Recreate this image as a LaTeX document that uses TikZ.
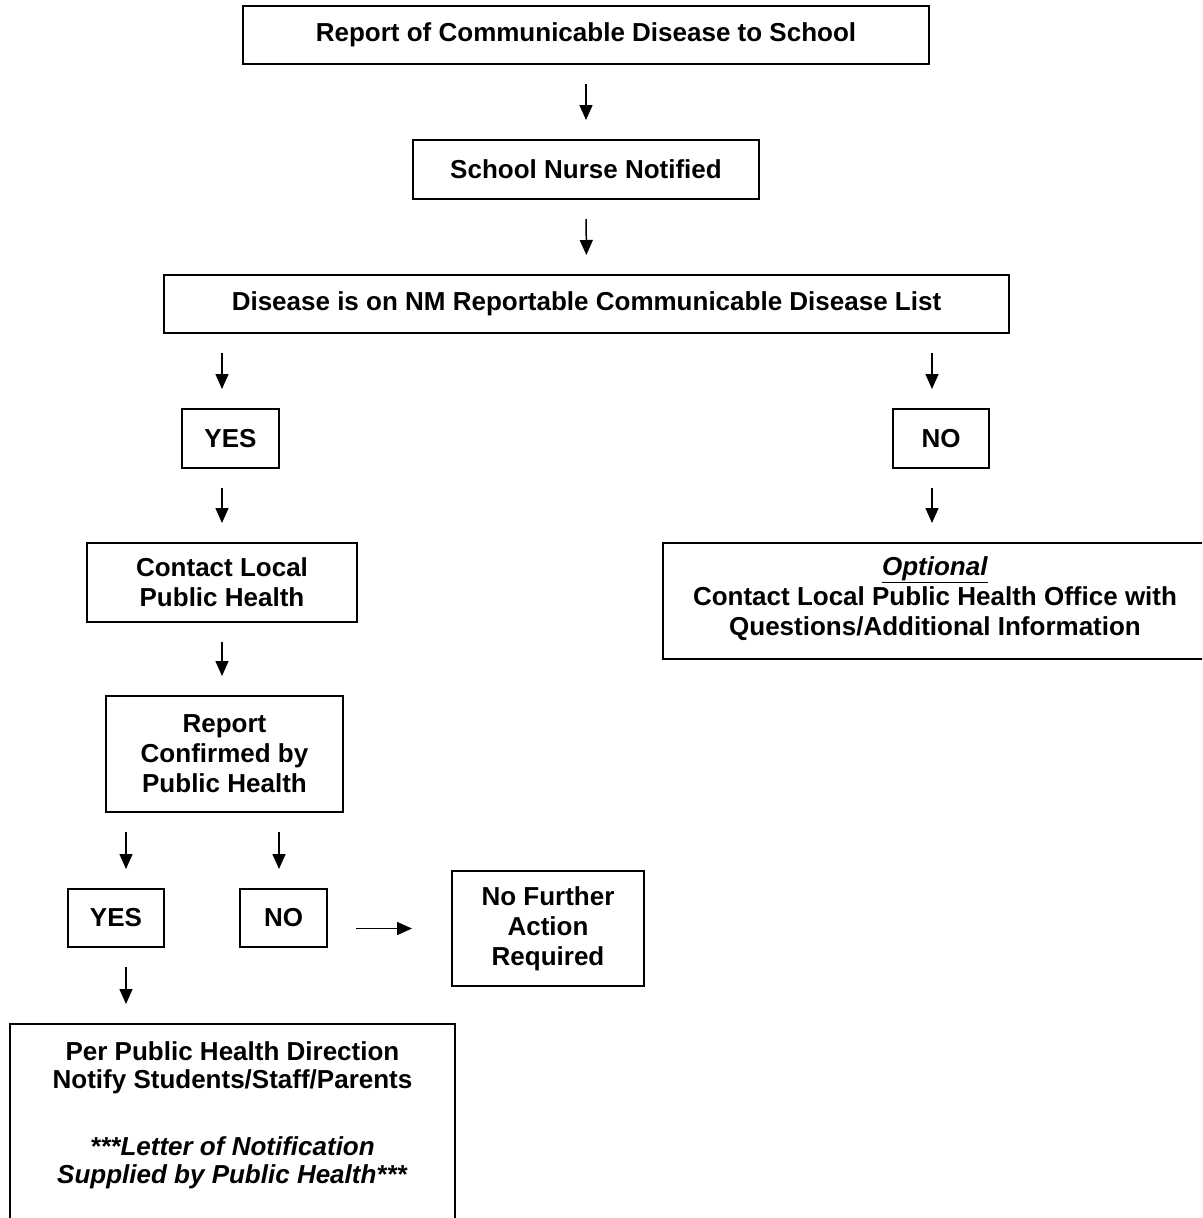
\documentclass[tikz,border=0pt]{standalone}
\usepackage{fontspec}
\setmainfont{Liberation Sans}
\usetikzlibrary{arrows.meta}
\begin{document}
\begin{tikzpicture}[x=1pt,y=-1pt,
    box/.style={draw,line width=2pt,align=center,inner sep=0pt,font=\fontsize{26}{30}\selectfont\bfseries},
    arr/.style={line width=1.5pt,-{Triangle[length=15pt,width=13pt]},shorten <=19pt,shorten >=19pt}]
    \clip (0,0) rectangle (1202,1218);
    \node[box,minimum width=686pt,minimum height=58pt] (report) at (586,35) {Report of Communicable Disease to School};
    \node[box,minimum width=346pt,minimum height=59pt] (nurse) at (586,169.5) {School Nurse Notified};
    \node[box,minimum width=845pt,minimum height=58pt] (list) at (586.5,304) {Disease is on NM Reportable Communicable Disease List};
    \node[box,minimum width=97pt,minimum height=59pt] (yesa) at (230.5,438.5) {YES};
    \node[box,minimum width=96pt,minimum height=59pt] (noa) at (941,438.5) {NO};
    \node[box,minimum width=270pt,minimum height=79pt] (contact) at (222,582.5) {Contact Local\\Public Health};
    \node[box,minimum width=544pt,minimum height=116pt] (optional) at (935,601) {\underline{\smash{\textit{Optional}}\vphantom{p}}\\Contact Local Public Health Office with\\Questions/Additional Information};
    \node[box,minimum width=237pt,minimum height=116pt] (confirmed) at (224.5,754) {Report\\Confirmed by\\Public Health};
    \node[box,minimum width=96pt,minimum height=58pt] (yesb) at (116,918) {YES};
    \node[box,minimum width=87pt,minimum height=58pt] (nob) at (283.5,918) {NO};
    \node[box,minimum width=192pt,minimum height=115pt] (further) at (548,928.5) {No Further\\Action\\Required};
    \node[box,minimum width=445pt,minimum height=230pt,anchor=north] (notify) at (232.5,1023) {};
    \node[anchor=north,align=center,inner sep=0pt,font=\fontsize{26}{28}\selectfont\bfseries] (notifytext) at (232.5,1041) {Per Public Health Direction\\Notify Students/Staff/Parents\\[39pt]\textit{***Letter of Notification}\\\textit{Supplied by Public Health***}};
    \coordinate (colyes) at (126,0);
    \coordinate (colno) at (279,0);
    \coordinate (colright) at (932,0);
    \draw[arr] (report.south) -- (nurse.north);
    \draw[arr] (nurse.south) -- (list.north);
    \draw[arr] (list.south -| contact) -- (yesa.north -| contact);
    \draw[arr] (list.south -| colright) -- (noa.north -| colright);
    \draw[arr] (yesa.south -| contact) -- (contact.north);
    \draw[arr] (noa.south -| colright) -- (optional.north -| colright);
    \draw[arr] (contact.south) -- (confirmed.north -| contact);
    \draw[arr] (confirmed.south -| colyes) -- (yesb.north -| colyes);
    \draw[arr] (confirmed.south -| colno) -- (nob.north -| colno);
    \draw[arr,shorten <=28pt,shorten >=39pt] (nob.east |- further) -- (further.west);
    \draw[arr] (yesb.south -| colyes) -- (notify.north -| colyes);
\end{tikzpicture}
\end{document}
